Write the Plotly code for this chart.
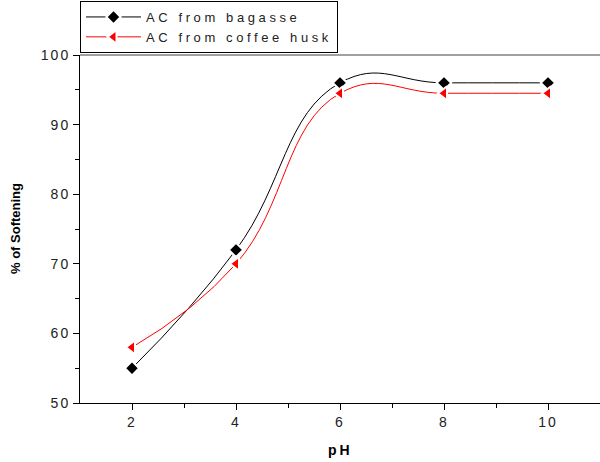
import plotly.graph_objects as go

ph = [2, 4, 6, 8, 10]
bagasse = [55, 72, 96, 96, 96]
coffee_husk = [58, 70, 94.5, 94.5, 94.5]
series_names = ["AC from bagasse", "AC from coffee husk"]
x_ticks = [2, 4, 6, 8, 10]
y_ticks = [50, 60, 70, 80, 90, 100]
x_title = "pH"
y_title = "% of Softening"


def spaced(s, px=2):
    return f'<span style="letter-spacing:{px}px">{s}</span>'


fig = go.Figure()
fig.add_trace(go.Scatter(
    x=ph, y=bagasse, mode="lines+markers", name=spaced(series_names[0], 3.6),
    line=dict(color="black", width=1, shape="spline", smoothing=1.3),
    marker=dict(symbol="diamond", size=11, color="black",
                line=dict(color="white", width=2)),
))
fig.add_trace(go.Scatter(
    x=ph, y=coffee_husk, mode="lines+markers", name=spaced(series_names[1], 3.6),
    line=dict(color="red", width=1, shape="spline", smoothing=1.3),
    marker=dict(symbol="triangle-left", size=12, color="red",
                line=dict(color="white", width=2)),
))

fig.update_layout(
    width=600, height=462,
    margin=dict(l=80, r=0, t=55, b=59, autoexpand=False),
    paper_bgcolor="white", plot_bgcolor="white",
    font=dict(family="Liberation Sans, Arial", size=14, color="#222"),
    showlegend=True,
    legend=dict(x=0, y=1 + 2 / 348, xanchor="left", yanchor="bottom",
                bordercolor="black", borderwidth=1, bgcolor="white",
                font=dict(size=13, color="#222"), itemwidth=55,
                tracegroupgap=0),
    xaxis=dict(range=[1, 11], tickvals=x_ticks,
               ticktext=[spaced(str(v)) for v in x_ticks],
               showgrid=False, zeroline=False, showline=True,
               linecolor="black", linewidth=1, ticks="outside",
               ticklen=6, tickcolor="black",
               minor=dict(tickvals=[3, 5, 7, 9], ticks="outside", ticklen=4,
                          tickcolor="black")),
    yaxis=dict(range=[50, 100], tickvals=y_ticks,
               ticktext=[spaced(str(v)) for v in y_ticks],
               showgrid=False, zeroline=False, showline=True,
               linecolor="black", linewidth=1, ticks="outside",
               ticklen=6, tickcolor="black",
               minor=dict(tickvals=[55, 65, 75, 85, 95], ticks="outside",
                          ticklen=4, tickcolor="black")),
)
fig.add_annotation(xref="paper", yref="paper", x=0.5, y=-47 / 348,
                   text="<b>" + spaced(x_title, 3) + "</b>", showarrow=False,
                   xanchor="center", yanchor="middle",
                   font=dict(size=14, color="black"))
fig.add_annotation(xref="paper", yref="paper", x=-65 / 520, y=0.5,
                   text="<b>" + y_title + "</b>", showarrow=False,
                   textangle=-90, xanchor="center", yanchor="middle",
                   font=dict(size=13, color="black"))
fig.add_shape(type="line", xref="paper", yref="paper", x0=0, x1=1, y0=1, y1=1,
              line=dict(color="#808080", width=1.5))

fig.write_html("out.html", config={"displayModeBar": False},
               post_script="document.body.style.margin='0';")
